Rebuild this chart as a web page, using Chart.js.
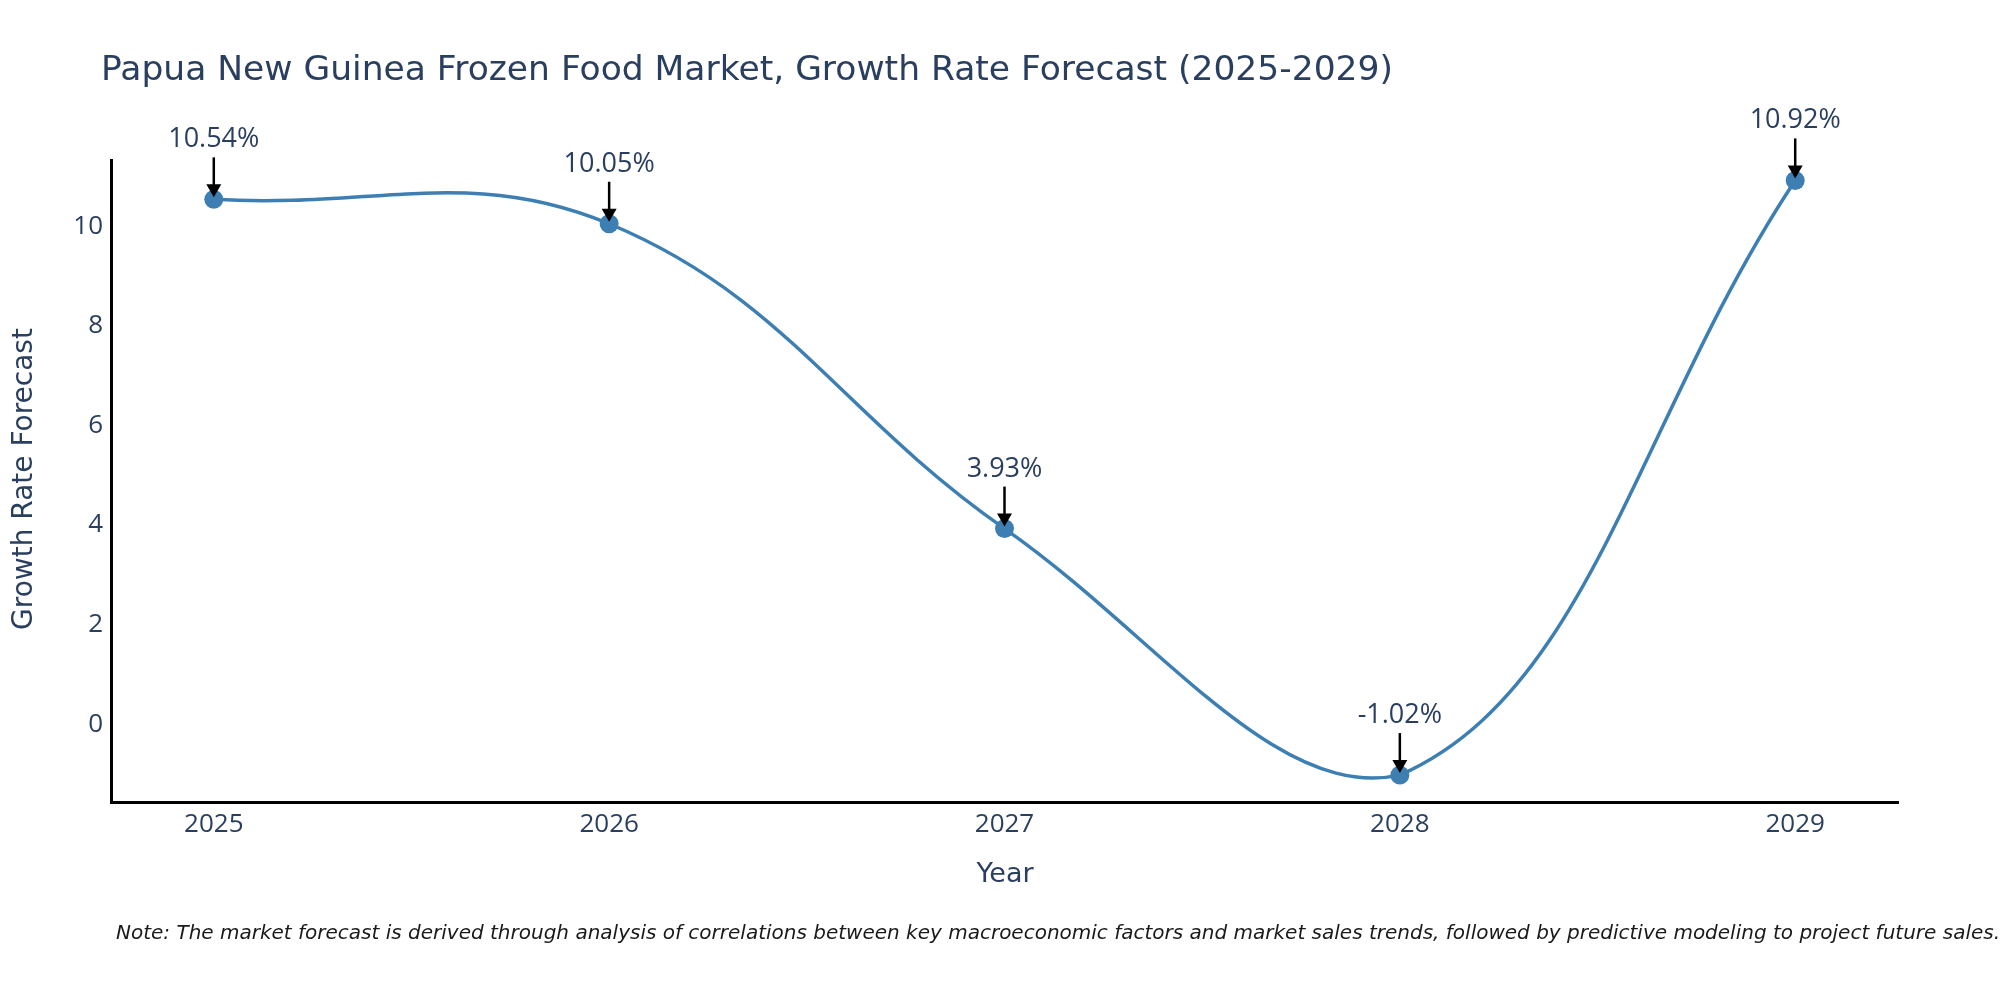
<!DOCTYPE html>
<html>
<head>
<meta charset="utf-8">
<script src="https://cdn.jsdelivr.net/npm/chart.js@4.4.1/dist/chart.umd.min.js"></script>
<style>
  html, body { margin: 0; padding: 0; background: #fff; }
  #wrap { width: 2000px; height: 1000px; position: relative; }
</style>
</head>
<body>
<div id="wrap"><canvas id="chart" width="2000" height="1000"></canvas></div>
<script>
// data
var years = [2025, 2026, 2027, 2028, 2029];
var growthRates = [10.54, 10.05, 3.93, -1.02, 10.92];
var annotationLabels = growthRates.map(function(v) { return v.toFixed(2) + '%'; });

var titleText = 'Papua New Guinea Frozen Food Market, Growth Rate Forecast (2025-2029)';
var xTitle = 'Year';
var yTitle = 'Growth Rate Forecast';
var noteText = 'Note: The market forecast is derived through analysis of correlations between key macroeconomic factors and market sales trends, followed by predictive modeling to project future sales.';

var textColor = '#2a3f5f';
var lineColor = '#3d7fb3';
var sansFont = '"Open Sans", "Noto Sans", sans-serif';
var wideFont = '"DejaVu Sans", Verdana, sans-serif';

// title, axis titles and the note below the plot
var textPlugin = {
    id: 'texts',
    afterDraw: function(chart) {
        var ctx = chart.ctx;
        ctx.save();
        ctx.fillStyle = textColor;
        ctx.textBaseline = 'alphabetic';
        ctx.textAlign = 'left';
        ctx.font = '34.5px ' + wideFont;
        ctx.fillText(titleText, 101, 80);

        ctx.textAlign = 'center';
        ctx.textBaseline = 'middle';
        ctx.font = '27px ' + wideFont;
        ctx.fillText(xTitle, 1005, 875);

        ctx.save();
        ctx.translate(25, 479);
        ctx.rotate(-Math.PI / 2);
        ctx.font = '28px ' + wideFont;
        ctx.fillText(yTitle, 0, 0);
        ctx.restore();

        ctx.textAlign = 'left';
        ctx.textBaseline = 'alphabetic';
        ctx.fillStyle = '#1a1a1a';
        ctx.font = 'italic 20px ' + wideFont;
        ctx.fillText(noteText, 116, 939);
        ctx.restore();
    }
};

// arrow annotations pointing at every marker
var arrowPlugin = {
    id: 'arrows',
    afterDatasetsDraw: function(chart) {
        var ctx = chart.ctx;
        var xs = chart.scales.x, ys = chart.scales.y;
        ctx.save();
        for (var i = 0; i < years.length; i++) {
            var px = xs.getPixelForValue(years[i]);
            var py = ys.getPixelForValue(growthRates[i]);
            var tail = py - 42, tip = py - 2;

            ctx.strokeStyle = '#000';
            ctx.lineWidth = 2.5;
            ctx.beginPath();
            ctx.moveTo(px, tail);
            ctx.lineTo(px, tip - 10);
            ctx.stroke();

            ctx.fillStyle = '#000';
            ctx.beginPath();
            ctx.moveTo(px - 7.5, tip - 13);
            ctx.lineTo(px + 7.5, tip - 13);
            ctx.lineTo(px, tip);
            ctx.closePath();
            ctx.fill();

            ctx.fillStyle = textColor;
            ctx.font = '27px ' + sansFont;
            ctx.textAlign = 'center';
            ctx.textBaseline = 'alphabetic';
            ctx.fillText(annotationLabels[i], px, py - 52);
        }
        ctx.restore();
    }
};

var points = years.map(function(y, i) { return { x: y, y: growthRates[i] }; });

new Chart(document.getElementById('chart'), {
    type: 'line',
    data: {
        datasets: [{
            data: points,
            borderColor: lineColor,
            backgroundColor: lineColor,
            borderWidth: 3.5,
            tension: 0.4,
            pointRadius: 9.5,
            pointBorderWidth: 0,
            pointBackgroundColor: lineColor,
            clip: false
        }]
    },
    options: {
        responsive: false,
        animation: false,
        devicePixelRatio: 1,
        layout: { padding: { top: 160, right: 102, left: 0, bottom: 0 } },
        plugins: {
            legend: { display: false },
            title: { display: false },
            tooltip: { enabled: false }
        },
        scales: {
            x: {
                type: 'linear',
                min: 2024.74,
                max: 2029.26,
                afterFit: function(scale) { scale.height = 198; },
                grid: { display: false, drawTicks: false },
                border: { display: true, color: '#000', width: 3 },
                ticks: {
                    stepSize: 1,
                    includeBounds: false,
                    padding: 7,
                    color: textColor,
                    font: { family: sansFont, size: 26 },
                    callback: function(v) { return String(v); }
                }
            },
            y: {
                type: 'linear',
                min: -1.56,
                max: 11.33,
                afterFit: function(scale) { scale.width = 111; },
                grid: { display: false, drawTicks: false },
                border: { display: true, color: '#000', width: 3 },
                ticks: {
                    stepSize: 2,
                    includeBounds: false,
                    padding: 8,
                    color: textColor,
                    font: { family: sansFont, size: 26 },
                    callback: function(v) { return String(v); }
                }
            }
        }
    },
    plugins: [textPlugin, arrowPlugin]
});
</script>
</body>
</html>
